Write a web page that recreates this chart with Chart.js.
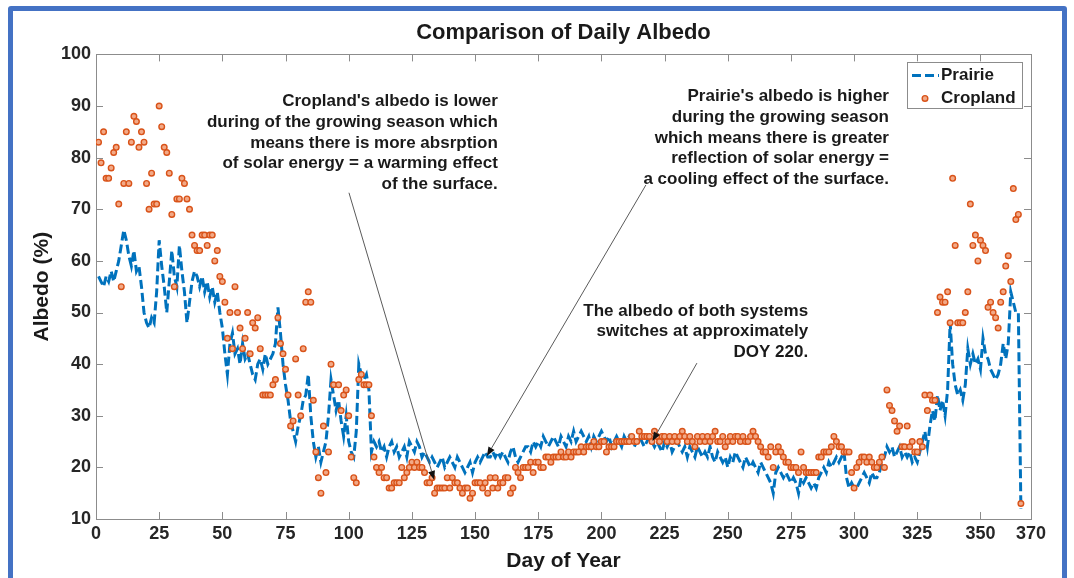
<!DOCTYPE html>
<html>
<head>
<meta charset="utf-8">
<title>Comparison of Daily Albedo</title>
<script src="https://cdn.jsdelivr.net/npm/chart.js@4.4.1/dist/chart.umd.min.js"></script>
<style>
  html, body { margin: 0; padding: 0; background: #fff; overflow: hidden; }
  #frame {
    position: absolute; left: 8px; top: 6px; width: 1059px; height: 640px;
    box-sizing: border-box; border: 5px solid #4472C4; border-radius: 3px;
  }
  #albedoChart { position: absolute; left: 0; top: 0; }
</style>
</head>
<body>
<div id="frame"></div>
<canvas id="albedoChart" width="1074" height="578"></canvas>
<script>
'use strict'

// DATA (day of year 1..366, albedo in %)
var firstDay = 1;

var prairie = [
    57, 56, 55, 57, 56, 58, 56, 58, 60, 63,
    66, 64, 61, 59, 62, 58, 59, 55, 50, 48,
    47, 49, 48, 54, 64, 59, 55, 50, 56, 62,
    57, 55, 63, 58, 54, 48, 52, 56, 58, 57,
    55, 57, 54, 56, 53, 55, 52, 54, 50, 47,
    42, 38, 44, 46, 42, 43, 40, 44, 41, 42,
    40, 38, 37, 40, 41, 39, 42, 40, 41, 42,
    44, 51, 46, 40, 36, 33, 29, 27, 25, 28,
    30, 33, 34, 38, 30, 25, 22, 24, 21, 23,
    25, 30, 37, 34, 31, 33, 29, 26, 30, 25,
    23, 22, 27, 40, 38, 37, 38, 35, 23, 25,
    24, 25, 23, 24, 22, 24, 25, 23, 24, 22,
    23, 24, 22, 25, 24, 23, 25, 24, 22, 23,
    22, 21, 22, 21, 20, 21, 22, 20, 21, 22,
    21, 20, 22, 21, 20, 19, 20, 21, 19, 21,
    22, 21, 22, 23, 22, 22, 23, 22, 23, 22,
    23, 22, 21, 23, 24, 22, 21, 22, 23, 24,
    24, 23, 25, 24, 25, 24, 26, 25, 24, 25,
    26, 25, 24, 26, 25, 24, 26, 25, 27, 25,
    26, 27, 26, 25, 26, 24, 26, 25, 26, 27,
    26, 25, 26, 24, 25, 26, 25, 24, 26, 25,
    26, 25, 24, 25, 26, 25, 24, 25, 26, 25,
    24, 25, 24, 23, 25, 24, 25, 23, 24, 25,
    24, 23, 24, 22, 24, 23, 22, 24, 23, 22,
    23, 22, 24, 22, 21, 23, 22, 21, 22, 20,
    22, 21, 23, 22, 21, 20, 22, 21, 20, 21,
    20, 19, 21, 20, 19, 18, 17, 15, 19, 20,
    19, 18, 19, 18, 17, 18, 17, 15, 18, 17,
    18, 17, 16, 17, 16, 18, 19, 20, 19, 21,
    20, 21, 22, 21, 22, 23, 18, 16, 17, 16,
    16, 17, 18, 19, 18, 17, 19, 18, 18, 19,
    21, 22, 24, 23, 24, 22, 23, 24, 22, 23,
    22, 23, 21, 22, 21, 23, 25, 27, 24, 28,
    31, 29, 34, 31, 33, 30, 35, 48, 40, 36,
    34, 35, 33, 36, 43, 40, 42, 40, 41, 39,
    45, 42, 41, 39, 38, 37, 38, 40, 44, 41,
    44, 54, 52, 50, 50, 12
];

var cropland = [
    83, 79, 85, 76, 76, 78, 81, 82, 71, 55,
    75, 85, 75, 83, 88, 87, 82, 85, 83, 75,
    70, 77, 71, 71, 90, 86, 82, 81, 77, 69,
    55, 72, 72, 76, 75, 72, 70, 65, 63, 62,
    62, 65, 65, 63, 65, 65, 60, 62, 57, 56,
    52, 45, 50, 43, 55, 50, 47, 43, 45, 50,
    42, 48, 47, 49, 43, 34, 34, 34, 34, 36,
    37, 49, 44, 42, 39, 34, 28, 29, 41, 34,
    30, 43, 52, 54, 52, 33, 23, 18, 15, 28,
    19, 23, 40, 36, null, 36, 31, 34, 35, 30,
    22, 18, 17, 37, 38, 36, 36, 36, 30, 22,
    20, 19, 20, 18, 18, 16, 16, 17, 17, 17,
    20, 18, 19, 20, 21, 20, 21, 20, 20, 19,
    17, 17, 18, 15, 16, 16, 16, 16, 18, 16,
    18, 17, 17, 16, 15, 16, 16, 14, 15, 17,
    17, 17, 16, 17, 15, 18, 16, 18, 16, 17,
    17, 18, 18, 15, 16, 20, 19, 18, 20, 20,
    20, 21, 19, 21, 21, 20, 20, 22, 22, 21,
    22, 22, 22, 23, 22, 22, 23, 22, 23, 23,
    23, 24, 23, 24, 24, 24, 25, 24, 24, 25,
    25, 23, 24, 24, 24, 25, 25, 25, 25, 25,
    25, 26, 25, 25, 27, 26, 26, 26, 26, 25,
    27, 26, 25, 26, 26, 25, 26, 25, 26, 25,
    26, 27, 26, 25, 26, 25, 24, 26, 25, 26,
    25, 26, 25, 26, 27, 25, 25, 26, 24, 25,
    26, 25, 26, 26, 25, 26, 25, 25, 26, 27,
    26, 25, 24, 23, 23, 22, 24, 20, 23, 24,
    23, 22, 21, 21, 20, 20, 20, 19, 23, 20,
    19, 19, 19, 19, 19, 22, 22, 23, 23, 23,
    24, 26, 25, 24, 24, 23, 23, 23, 19, 16,
    20, 21, 22, 22, 21, 22, 21, 20, 20, 21,
    22, 20, 35, 32, 31, 29, 27, 28, 24, 24,
    28, 24, 25, 23, 23, 25, 24, 34, 31, 34,
    33, 33, 50, 53, 52, 52, 54, 48, 76, 63,
    48, 48, 48, 50, 54, 71, 63, 65, 60, 64,
    63, 62, 51, 52, 50, 49, 47, 52, 54, 59,
    61, 56, 74, 68, 69, 13
];

var xTicks = [0, 25, 50, 75, 100, 125, 150, 175, 200, 225, 250, 275, 300, 325, 350, 370];
var yRange = [10, 100];

// annotations, anchored in data units (day, albedo)
var notes = [{
        lines: ["Cropland's albedo is lower", "during of the growing season which",
            "means there is more absrption", "of solar energy = a warming effect", "of the surface."],
        at: [159, 90.9],
        from: [100.1, 73.2],
        to: [133.8, 17.6]
    },
    {
        lines: ["Prairie's albedo is higher", "during the growing season",
            "which means there is greater", "reflection of solar energy =", "a cooling effect of the surface."],
        at: [313.8, 91.9],
        from: [217.6, 74.7],
        to: [154.7, 22.2]
    },
    {
        lines: ["The albedo of both systems", "switches at approximately", "DOY 220."],
        at: [281.8, 50.3],
        from: [237.8, 40.2],
        to: [220.2, 25.1]
    }
];

function toPoints(values) {
    return values.map(function (v, i) {
        return { x: firstDay + i, y: v };
    });
}

var FONT = "'Liberation Sans', Arial, Helvetica, sans-serif";
var BLUE = '#0072BD';
var ORANGE = '#D95319';

// box, inward ticks, annotations and legend in MATLAB style
var albedoDecor = {
    id: 'albedoDecor',
    beforeDatasetsDraw: function (chart) {
        var ctx = chart.ctx, a = chart.chartArea;
        var sx = chart.scales.x, sy = chart.scales.y;
        var len = 7;
        ctx.save();
        ctx.strokeStyle = '#8c8c8c';
        ctx.lineWidth = 1;
        ctx.beginPath();
        sx.ticks.forEach(function (t) {
            var px = Math.round(sx.getPixelForValue(t.value)) + 0.5;
            ctx.moveTo(px, a.bottom); ctx.lineTo(px, a.bottom - len);
            ctx.moveTo(px, a.top); ctx.lineTo(px, a.top + len);
        });
        sy.ticks.forEach(function (t) {
            var py = Math.round(sy.getPixelForValue(t.value)) + 0.5;
            ctx.moveTo(a.left, py); ctx.lineTo(a.left + len, py);
            ctx.moveTo(a.right, py); ctx.lineTo(a.right - len, py);
        });
        ctx.stroke();
        ctx.strokeRect(Math.round(a.left) + 0.5, Math.round(a.top) + 0.5,
            Math.round(a.right - a.left), Math.round(a.bottom - a.top));
        ctx.restore();
    },
    afterDatasetsDraw: function (chart) {
        var ctx = chart.ctx, a = chart.chartArea;
        var sx = chart.scales.x, sy = chart.scales.y;
        ctx.save();

        // ANNOTATIONS
        notes.forEach(function (n) {
            var x = sx.getPixelForValue(n.at[0]);
            var y = sy.getPixelForValue(n.at[1]);
            ctx.font = 'bold 17px ' + FONT;
            ctx.fillStyle = '#1a1a1a';
            ctx.textAlign = 'right';
            ctx.textBaseline = 'middle';
            n.lines.forEach(function (line, i) {
                ctx.fillText(line, x, y + i * 20.8);
            });

            var x0 = sx.getPixelForValue(n.from[0]), y0 = sy.getPixelForValue(n.from[1]);
            var x1 = sx.getPixelForValue(n.to[0]), y1 = sy.getPixelForValue(n.to[1]);
            var ang = Math.atan2(y1 - y0, x1 - x0);
            var head = 9, half = 3.5;
            var bx = x1 - head * Math.cos(ang), by = y1 - head * Math.sin(ang);
            ctx.strokeStyle = '#5a5a5a';
            ctx.lineWidth = 1;
            ctx.beginPath();
            ctx.moveTo(x0, y0);
            ctx.lineTo(bx, by);
            ctx.stroke();
            ctx.fillStyle = '#111';
            ctx.beginPath();
            ctx.moveTo(x1, y1);
            ctx.lineTo(bx - half * Math.sin(ang), by + half * Math.cos(ang));
            ctx.lineTo(bx + half * Math.sin(ang), by - half * Math.cos(ang));
            ctx.closePath();
            ctx.fill();
        });

        // LEGEND
        var lx = a.right - 124, ly = a.top + 8, lw = 115, lh = 46;
        ctx.fillStyle = '#fff';
        ctx.fillRect(lx, ly, lw, lh);
        ctx.strokeStyle = '#8c8c8c';
        ctx.lineWidth = 1;
        ctx.strokeRect(Math.round(lx) + 0.5, Math.round(ly) + 0.5, lw, lh);

        var ds = chart.data.datasets;
        ctx.strokeStyle = ds[1].borderColor;
        ctx.lineWidth = ds[1].borderWidth;
        ctx.setLineDash(ds[1].borderDash);
        ctx.beginPath();
        ctx.moveTo(lx + 5, ly + 13);
        ctx.lineTo(lx + 32, ly + 13);
        ctx.stroke();
        ctx.setLineDash([]);

        ctx.beginPath();
        ctx.arc(lx + 18, ly + 36, ds[0].pointRadius, 0, Math.PI * 2);
        ctx.fillStyle = ds[0].pointBackgroundColor;
        ctx.fill();
        ctx.lineWidth = ds[0].pointBorderWidth;
        ctx.strokeStyle = ds[0].pointBorderColor;
        ctx.stroke();

        ctx.font = 'bold 17px ' + FONT;
        ctx.fillStyle = '#1a1a1a';
        ctx.textAlign = 'left';
        ctx.textBaseline = 'middle';
        ctx.fillText(ds[1].label, lx + 34, ly + 13);
        ctx.fillText(ds[0].label, lx + 34, ly + 36);
        ctx.restore();
    }
};

var ctx = document.getElementById('albedoChart').getContext('2d');

var chart = new Chart(ctx, {
    type: 'line',
    data: {
        datasets: [{
                label: 'Cropland',
                data: toPoints(cropland),
                showLine: false,
                order: 1,
                pointRadius: 2.8,
                pointBorderWidth: 1.4,
                pointBorderColor: ORANGE,
                pointBackgroundColor: '#f2a987'
            },
            {
                label: 'Prairie',
                data: toPoints(prairie),
                order: 2,
                borderColor: BLUE,
                borderWidth: 3,
                borderDash: [9, 4],
                pointRadius: 0,
                tension: 0,
                fill: false
            }
        ]
    },
    options: {
        responsive: false,
        animation: false,
        events: [],
        layout: {
            padding: { left: 0, top: 0, right: 43, bottom: 0 }
        },
        plugins: {
            legend: { display: false },
            tooltip: { enabled: false },
            title: {
                display: true,
                text: 'Comparison of Daily Albedo',
                fullSize: false,
                color: '#1a1a1a',
                font: { family: FONT, size: 22, weight: 'bold' },
                padding: { top: 20, bottom: 8 }
            }
        },
        scales: {
            x: {
                type: 'linear',
                min: 0,
                max: xTicks[xTicks.length - 1],
                afterBuildTicks: function (s) {
                    s.ticks = xTicks.map(function (v) { return { value: v }; });
                },
                afterFit: function (s) { s.height = 59; },
                grid: { display: false, drawTicks: false, tickLength: 0 },
                border: { display: false },
                ticks: {
                    autoSkip: false,
                    maxRotation: 0,
                    padding: 4,
                    color: '#262626',
                    font: { family: FONT, size: 18, weight: 'bold' }
                },
                title: {
                    display: true,
                    text: 'Day of Year',
                    color: '#1a1a1a',
                    font: { family: FONT, size: 21, weight: 'bold' },
                    padding: { top: 0, bottom: 4 }
                }
            },
            y: {
                min: yRange[0],
                max: yRange[1],
                afterFit: function (s) { s.width = 96; },
                grid: { display: false, drawTicks: false, tickLength: 0 },
                border: { display: false },
                ticks: {
                    stepSize: 10,
                    padding: 5,
                    color: '#262626',
                    font: { family: FONT, size: 18, weight: 'bold' }
                },
                title: {
                    display: true,
                    text: 'Albedo (%)',
                    color: '#1a1a1a',
                    font: { family: FONT, size: 21, weight: 'bold' },
                    padding: { top: 30, bottom: 0 }
                }
            }
        }
    },
    plugins: [albedoDecor]
});
</script>
</body>
</html>
